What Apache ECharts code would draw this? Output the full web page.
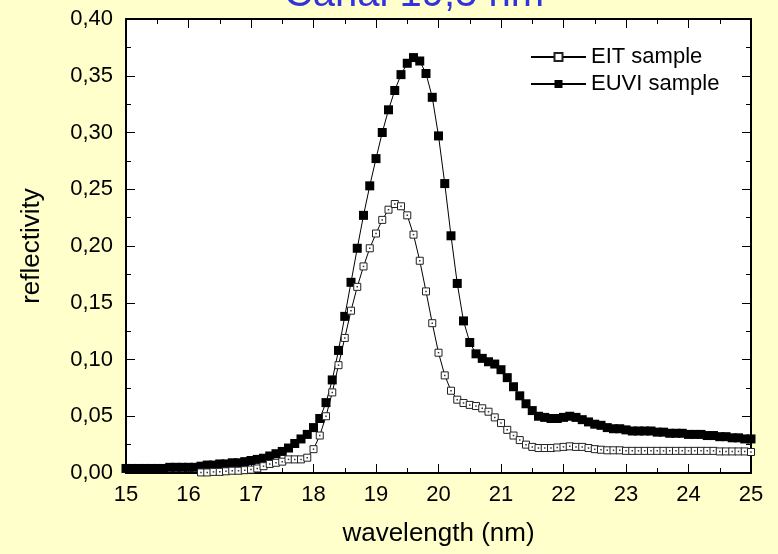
<!DOCTYPE html>
<html>
<head>
  <meta charset="utf-8">
  <style>
    html, body { margin: 0; height: 100%; background: #FFFFCC; }
    #container { width: 778px; height: 554px; }
  </style>
</head>
<body>
  <div id="container"></div>
  <script type="text/javascript" src="https://cdn.jsdelivr.net/npm/echarts@6/dist/echarts.min.js"></script>
  <script type="text/javascript">
    // wavelength grid, 15.0 .. 25.0 nm every 0.1 nm
    var wavelength = [];
    for (var i = 0; i <= 100; i++) wavelength.push(+(15 + i * 0.1).toFixed(1));

    // EIT sample reflectivity (no data below 16.2 nm)
    var eit = [
      null, null, null, null, null, null, null, null, null, null,
      null, null, 0.0005, 0.0005, 0.001, 0.001, 0.0015, 0.002, 0.002, 0.0025,
      0.003, 0.004, 0.006, 0.008, 0.009, 0.010, 0.012, 0.012, 0.012, 0.0135,
      0.021, 0.033, 0.050, 0.071, 0.095, 0.119, 0.143, 0.164, 0.182, 0.198,
      0.211, 0.223, 0.232, 0.237, 0.235, 0.227, 0.210, 0.187, 0.160, 0.132,
      0.106, 0.086, 0.0725, 0.0646, 0.0617, 0.060, 0.059, 0.057, 0.054, 0.049,
      0.044, 0.038, 0.033, 0.029, 0.025, 0.023, 0.022, 0.022, 0.022, 0.0225,
      0.023, 0.0235, 0.023, 0.023, 0.022, 0.021, 0.0205, 0.020, 0.020, 0.020,
      0.0195, 0.0195, 0.0195, 0.0195, 0.0195, 0.0195, 0.0195, 0.0195, 0.0195, 0.0195,
      0.0195, 0.0195, 0.0195, 0.0195, 0.0195, 0.019, 0.019, 0.019, 0.019, 0.019,
      0.0185
    ];

    // EUVI sample reflectivity
    var euvi = [
      0.004, 0.004, 0.004, 0.004, 0.004, 0.004, 0.004, 0.005, 0.005, 0.005,
      0.005, 0.005, 0.006, 0.007, 0.007, 0.008, 0.008, 0.009, 0.009, 0.010,
      0.011, 0.012, 0.013, 0.015, 0.017, 0.019, 0.022, 0.026, 0.030, 0.034,
      0.040, 0.048, 0.062, 0.082, 0.108, 0.138, 0.168, 0.198, 0.227, 0.253,
      0.277, 0.300, 0.320, 0.337, 0.351, 0.361, 0.366, 0.363, 0.352, 0.331,
      0.297, 0.255, 0.209, 0.167, 0.134, 0.115, 0.105, 0.101, 0.098, 0.096,
      0.091, 0.084, 0.076, 0.068, 0.061, 0.055, 0.050, 0.049, 0.048, 0.048,
      0.049, 0.050, 0.049, 0.047, 0.045, 0.043, 0.042, 0.040, 0.039, 0.039,
      0.038, 0.037, 0.037, 0.037, 0.037, 0.036, 0.036, 0.035, 0.035, 0.035,
      0.034, 0.034, 0.034, 0.033, 0.033, 0.032, 0.032, 0.031, 0.031, 0.030,
      0.030
    ];

    var yTicks = [0, 0.05, 0.10, 0.15, 0.20, 0.25, 0.30, 0.35, 0.40];

    function pairs(xs, ys) {
      var out = [];
      for (var k = 0; k < xs.length; k++) out.push([xs[k], ys[k]]);
      return out;
    }

    var font = "'Liberation Sans', Arial, sans-serif";
    var dom = document.getElementById('container');
    var myChart = echarts.init(dom, null, { renderer: 'canvas' });

    var tickStyle = { color: '#000', width: 1 };
    function mirrorX(pos, labels) {
      return {
        type: 'value', position: pos, min: 15, max: 25, interval: 1,
        axisLine: { show: true, onZero: false, lineStyle: { color: '#000', width: 2 } },
        axisTick: { show: true, inside: true, length: 9, lineStyle: tickStyle },
        minorTick: { show: true, splitNumber: 2, length: 5, lineStyle: tickStyle },
        splitLine: { show: false },
        axisLabel: { show: labels, color: '#000', fontSize: 22, fontFamily: font, margin: 11 }
      };
    }
    function mirrorY(pos, labels) {
      return {
        type: 'value', position: pos, min: yTicks[0], max: yTicks[yTicks.length - 1], interval: 0.05,
        axisLine: { show: true, onZero: false, lineStyle: { color: '#000', width: 2 } },
        axisTick: { show: true, inside: true, length: 9, lineStyle: tickStyle },
        minorTick: { show: true, splitNumber: 2, length: 5, lineStyle: tickStyle },
        splitLine: { show: false },
        axisLabel: {
          show: labels, color: '#000', fontSize: 22, fontFamily: font, margin: 13,
          formatter: function (v) { return v.toFixed(2).replace('.', ','); }
        }
      };
    }

    var xBottom = mirrorX('bottom', true);
    xBottom.name = 'wavelength (nm)';
    xBottom.nameLocation = 'middle';
    xBottom.nameGap = 48;
    xBottom.nameTextStyle = { color: '#000', fontSize: 26, fontFamily: font };
    var yLeft = mirrorY('left', true);
    yLeft.name = 'reflectivity';
    yLeft.nameLocation = 'middle';
    yLeft.nameGap = 81;
    yLeft.nameTextStyle = { color: '#000', fontSize: 26, fontFamily: font };

    var option = {
      backgroundColor: '#FFFFCC',
      animation: false,
      title: {
        text: 'Canal 19,5 nm',
        left: 409, top: -30, textAlign: 'center',
        textStyle: { color: '#3333DD', fontSize: 40, fontWeight: 'normal', fontFamily: font }
      },
      grid: { left: 126, top: 19, right: 27, bottom: 81, show: true, backgroundColor: '#fff', borderWidth: 0 },
      legend: {
        data: ['EIT sample', 'EUVI sample'],
        orient: 'vertical', left: 525, top: 41,
        itemWidth: 55, itemHeight: 10, itemGap: 5,
        textStyle: { color: '#000', fontSize: 22, fontFamily: font, lineHeight: 22 }
      },
      xAxis: [xBottom, mirrorX('top', false)],
      yAxis: [yLeft, mirrorY('right', false)],
      series: [
        {
          name: 'EUVI sample', type: 'line', data: pairs(wavelength, euvi),
          symbol: 'rect', symbolSize: 9, showAllSymbol: true,
          itemStyle: { color: '#000' },
          lineStyle: { color: '#000', width: 1 },
          emphasis: { disabled: true }
        },
        {
          name: 'EIT sample', type: 'line', data: pairs(wavelength, eit),
          symbol: 'rect', symbolSize: 7, showAllSymbol: true,
          itemStyle: { color: '#fff', borderColor: '#222', borderWidth: 1 },
          lineStyle: { color: '#000', width: 1 },
          emphasis: { disabled: true }
        },
        {
          name: 'EIT dots', type: 'scatter', data: pairs(wavelength, eit),
          symbol: 'rect', symbolSize: 1.5, itemStyle: { color: '#000' },
          silent: true, z: 3
        }
      ]
    };

    myChart.setOption(option);
    window.addEventListener('resize', myChart.resize);
  </script>
</body>
</html>
